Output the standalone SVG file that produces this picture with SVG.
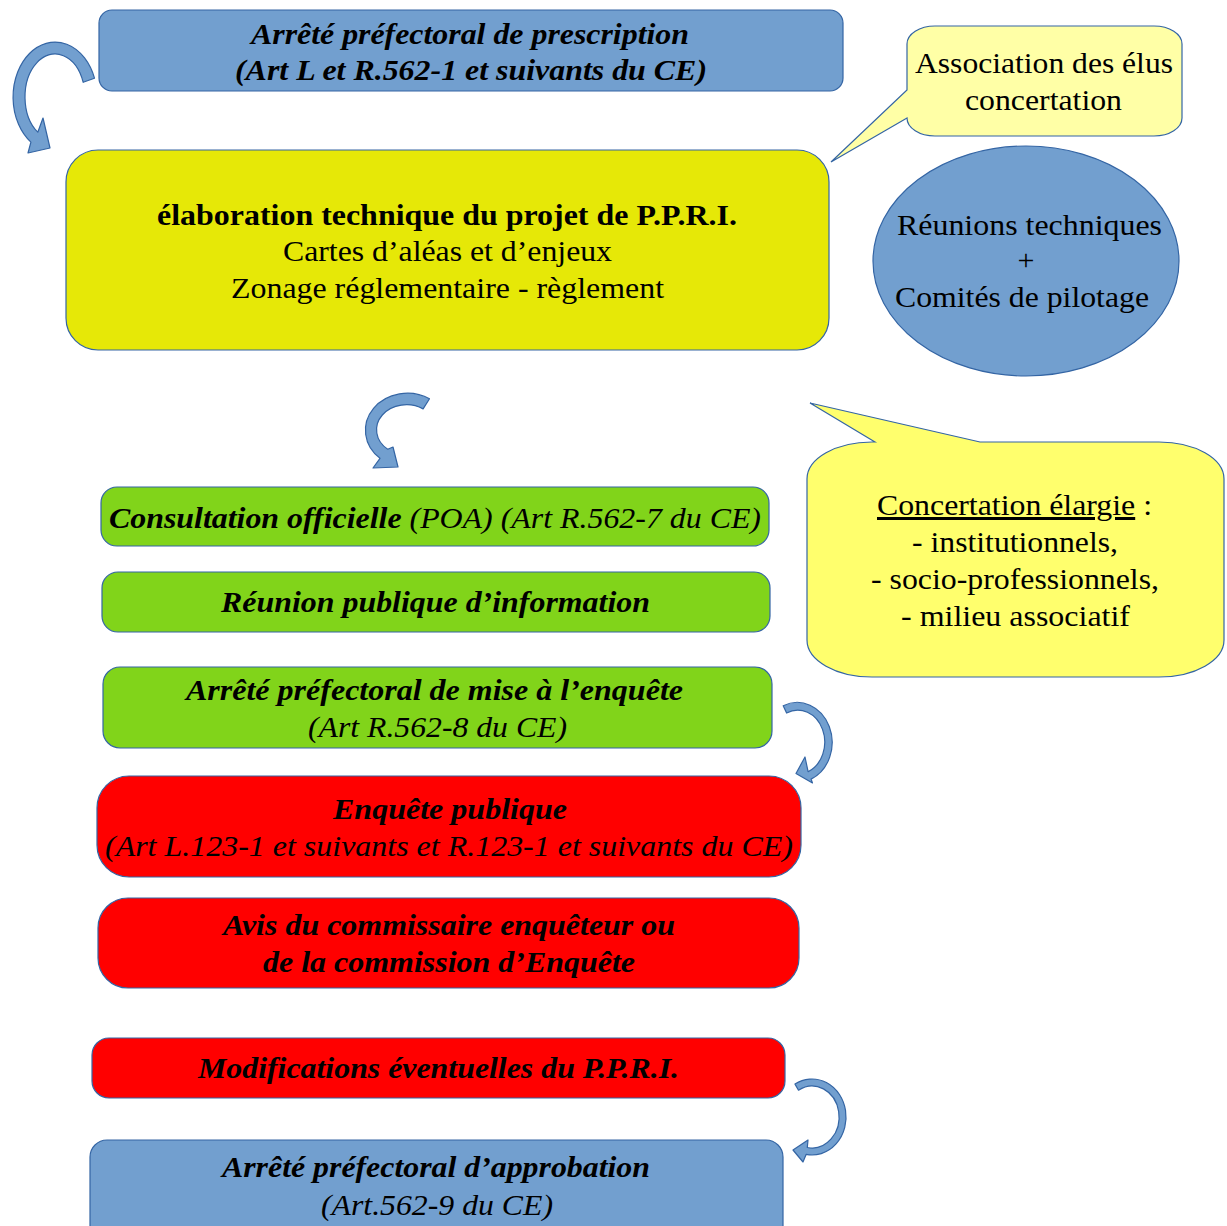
<svg xmlns="http://www.w3.org/2000/svg" width="1227" height="1226" viewBox="0 0 1227 1226">
<style>
.bx{stroke:#3465a4;stroke-width:1.2}
.blue{fill:#729fcf}
.ylw{fill:#e6e807}
.grn{fill:#81d41a}
.red{fill:#ff0000}
.c1{fill:#ffffa6}
.c2{fill:#ffff6d}
.arr{fill:#729fcf;stroke:#3465a4;stroke-width:1.2;stroke-linejoin:round}
text{font-family:"Liberation Serif","Times New Roman",serif;fill:#000}
.t{font-size:29px}
.tc{font-size:30px}
.bi{font-weight:bold;font-style:italic}
.i{font-style:italic}
.b{font-weight:bold}
</style>

<g id="connectors">
  <path class="arr" d="M94.5,78.2 A42,55 0 1,0 30.9,142.1 L28,153 L50,148 L43,118 L37.8,132.2 A30,43 0 1,1 83.2,82.3 Z"/>
  <path class="arr" d="M429.5,398.8 A42,37 0 0,0 380,458.3 L373,468 L398,467 L393,447 L387.7,449.2 A30,25 0 0,1 423.1,408.9 Z"/>
  <path class="arr" d="M783.2,705.7 A35,40 0 1,1 811.1,779.1 L812.5,783 L796,773.5 L805,757 L808.1,771.7 A27,32 0 1,0 786.6,713 Z"/>
  <path class="arr" d="M795,1084.1 A34,38 0 1,1 806.1,1154.4 L803,1162 L793,1150 L808,1140 L807.3,1147.5 A27,31 0 1,0 798.5,1090.2 Z"/>
</g>

<g id="n-prescription">
  <rect class="bx blue" x="99" y="10" width="744" height="81" rx="13"/>
  <text class="t bi" x="251" y="44" textLength="438" lengthAdjust="spacingAndGlyphs">Arrêté préfectoral de prescription</text>
  <text class="t bi" x="235" y="80" textLength="472" lengthAdjust="spacingAndGlyphs">(Art L et R.562-1 et suivants du CE)</text>
</g>

<g id="n-elaboration">
  <rect class="bx ylw" x="66" y="150" width="763" height="200" rx="32"/>
  <text class="t b" x="157" y="225" textLength="580" lengthAdjust="spacingAndGlyphs">élaboration technique du projet de P.P.R.I.</text>
  <text class="t" x="283" y="261" textLength="329" lengthAdjust="spacingAndGlyphs">Cartes d’aléas et d’enjeux</text>
  <text class="t" x="231" y="298" textLength="433" lengthAdjust="spacingAndGlyphs">Zonage réglementaire - règlement</text>
</g>

<g id="n-association">
  <path class="bx c1" d="M935,26 L1154,26 A28,18 0 0,1 1182,44 L1182,118 A28,18 0 0,1 1154,136 L935,136 A28,18 0 0,1 907,118 L831,162 L907,90 L907,44 A28,18 0 0,1 935,26 Z"/>
  <text class="tc" x="915" y="73" textLength="258" lengthAdjust="spacingAndGlyphs">Association des élus</text>
  <text class="tc" x="965" y="110" textLength="157" lengthAdjust="spacingAndGlyphs">concertation</text>
</g>

<g id="n-reunions">
  <ellipse class="bx blue" cx="1026" cy="261" rx="153" ry="115"/>
  <text class="tc" x="897" y="235" textLength="265" lengthAdjust="spacingAndGlyphs">Réunions techniques</text>
  <text class="tc" x="1026" y="270" text-anchor="middle">+</text>
  <text class="tc" x="895" y="307" textLength="254" lengthAdjust="spacingAndGlyphs">Comités de pilotage</text>
</g>

<g id="n-concertation">
  <path class="bx c2" d="M875,442 L810,403 L980,442 L1159,442 A65,37 0 0,1 1224,479 L1224,640 A65,37 0 0,1 1159,677 L872,677 A65,37 0 0,1 807,640 L807,479 A65,37 0 0,1 872,442 Z"/>
  <text class="tc" x="877" y="515" textLength="275" lengthAdjust="spacingAndGlyphs"><tspan text-decoration="underline">Concertation élargie</tspan> :</text>
  <text class="tc" x="912" y="552" textLength="206" lengthAdjust="spacingAndGlyphs">- institutionnels,</text>
  <text class="tc" x="871" y="589" textLength="288" lengthAdjust="spacingAndGlyphs">- socio-professionnels,</text>
  <text class="tc" x="901" y="626" textLength="229" lengthAdjust="spacingAndGlyphs">- milieu associatif</text>
</g>

<g id="n-consultation">
  <rect class="bx grn" x="101" y="487" width="668" height="59" rx="16"/>
  <text class="t i" x="109" y="528" textLength="652" lengthAdjust="spacingAndGlyphs"><tspan font-weight="bold">Consultation officielle</tspan> (POA) (Art R.562-7 du CE)</text>
</g>

<g id="n-reunion-publique">
  <rect class="bx grn" x="102" y="572" width="668" height="60" rx="16"/>
  <text class="t bi" x="221" y="612" textLength="429" lengthAdjust="spacingAndGlyphs">Réunion publique d’information</text>
</g>

<g id="n-mise-enquete">
  <rect class="bx grn" x="103" y="667" width="669" height="81" rx="17"/>
  <text class="t bi" x="186" y="700" textLength="497" lengthAdjust="spacingAndGlyphs">Arrêté préfectoral de mise à l’enquête</text>
  <text class="t i" x="308" y="737" textLength="259" lengthAdjust="spacingAndGlyphs">(Art R.562-8 du CE)</text>
</g>

<g id="n-enquete">
  <rect class="bx red" x="97" y="776" width="704" height="101" rx="32"/>
  <text class="t bi" x="333" y="819" textLength="234" lengthAdjust="spacingAndGlyphs">Enquête publique</text>
  <text class="t i" x="105" y="856" textLength="688" lengthAdjust="spacingAndGlyphs">(Art L.123-1 et suivants et R.123-1 et suivants du CE)</text>
</g>

<g id="n-avis">
  <rect class="bx red" x="98" y="898" width="701" height="90" rx="30"/>
  <text class="t bi" x="223" y="935" textLength="452" lengthAdjust="spacingAndGlyphs">Avis du commissaire enquêteur ou</text>
  <text class="t bi" x="263" y="972" textLength="372" lengthAdjust="spacingAndGlyphs">de la commission d’Enquête</text>
</g>

<g id="n-modifications">
  <rect class="bx red" x="92" y="1038" width="693" height="60" rx="17"/>
  <text class="t bi" x="198" y="1078" textLength="481" lengthAdjust="spacingAndGlyphs">Modifications éventuelles du P.P.R.I.</text>
</g>

<g id="n-approbation">
  <rect class="bx blue" x="90" y="1140" width="693" height="110" rx="17"/>
  <text class="t bi" x="222" y="1177" textLength="428" lengthAdjust="spacingAndGlyphs">Arrêté préfectoral d’approbation</text>
  <text class="t i" x="321" y="1215" textLength="232" lengthAdjust="spacingAndGlyphs">(Art.562-9 du CE)</text>
</g>
</svg>
